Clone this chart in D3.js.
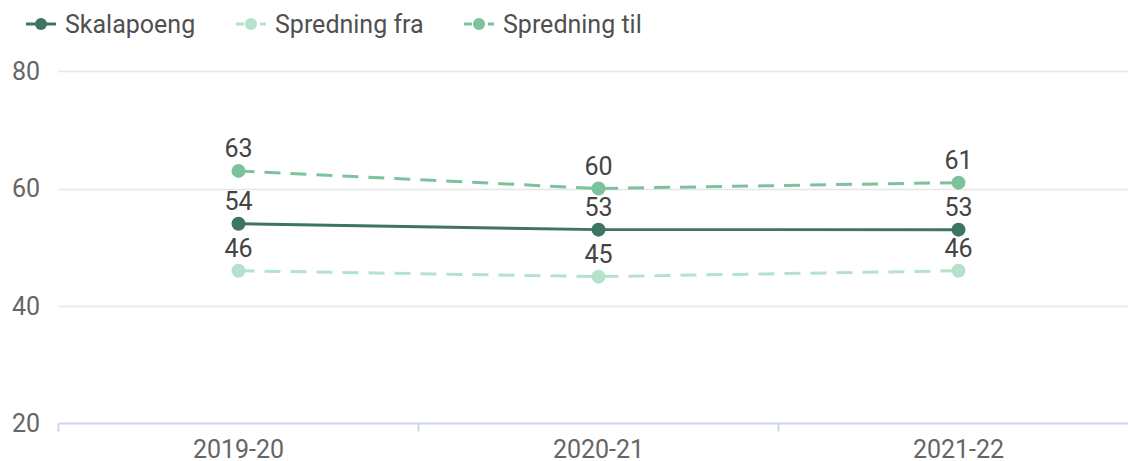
<!DOCTYPE html>
<html>
<head>
<meta charset="utf-8">
<script src="https://cdn.jsdelivr.net/npm/d3@7"></script>
<style>
  body { margin: 0; background: #fff; }
  svg { display: block; font-family: Roboto, "Noto Sans", sans-serif; }
</style>
</head>
<body>
<div id="chart"></div>
<script>
// Data
const years = ["2019-20", "2020-21", "2021-22"];
const skalapoeng = [54, 53, 53];
const spredningFra = [46, 45, 46];
const spredningTil = [63, 60, 61];
const yTicks = [20, 40, 60, 80];

const series = [
  {name: "Skalapoeng", values: skalapoeng, color: "#3d7463", dash: null, width: 3},
  {name: "Spredning fra", values: spredningFra, color: "#b5e2cb", dash: "16,10", width: 3},
  {name: "Spredning til", values: spredningTil, color: "#7cc39d", dash: "16,10", width: 3}
];

const width = 1128, height = 461;
const marginLeft = 58.5, marginTop = 71, marginBottom = 37.5;
const fontSize = 25;

const svg = d3.select("#chart").append("svg")
  .attr("width", width)
  .attr("height", height);

// Scales
const x = d3.scaleBand().domain(years).range([marginLeft, marginLeft + 360 * 3]);
const y = d3.scaleLinear().domain([20, 80]).range([height - marginBottom, marginTop]);

// Gridlines
svg.append("g")
  .selectAll("line")
  .data(yTicks.slice(1))
  .join("line")
  .attr("x1", marginLeft)
  .attr("x2", width)
  .attr("y1", d => Math.round(y(d)) + 0.5)
  .attr("y2", d => Math.round(y(d)) + 0.5)
  .attr("stroke", "#e6e6e6")
  .attr("stroke-width", 1.5);

// Y labels
svg.append("g")
  .selectAll("text")
  .data(yTicks)
  .join("text")
  .attr("x", 40)
  .attr("y", d => y(d))
  .attr("dy", "0.35em")
  .attr("text-anchor", "end")
  .attr("fill", "#666")
  .attr("font-size", fontSize)
  .text(d => d);

// X axis
const xAxis = svg.append("g");
xAxis.append("line")
  .attr("x1", marginLeft)
  .attr("x2", width)
  .attr("y1", y(20))
  .attr("y2", y(20))
  .attr("stroke", "#ccd6eb")
  .attr("stroke-width", 2);
xAxis.selectAll(".tick")
  .data(years)
  .join("line")
  .attr("x1", d => x(d))
  .attr("x2", d => x(d))
  .attr("y1", y(20))
  .attr("y2", y(20) + 8)
  .attr("stroke", "#ccd6eb")
  .attr("stroke-width", 2);
xAxis.selectAll("text")
  .data(years)
  .join("text")
  .attr("x", d => x(d) + x.bandwidth() / 2)
  .attr("y", 458)
  .attr("text-anchor", "middle")
  .attr("fill", "#666")
  .attr("font-size", fontSize)
  .text(d => d);

// Lines and markers
const line = d3.line()
  .x((d, i) => x(years[i]) + x.bandwidth() / 2)
  .y(d => y(d));

series.slice().reverse().forEach(s => {
  const g = svg.append("g");
  g.append("path")
    .datum(s.values)
    .attr("fill", "none")
    .attr("stroke", s.color)
    .attr("stroke-width", s.width)
    .attr("stroke-dasharray", s.dash)
    .attr("d", line);
  g.selectAll("circle")
    .data(s.values)
    .join("circle")
    .attr("cx", (d, i) => x(years[i]) + x.bandwidth() / 2)
    .attr("cy", d => y(d))
    .attr("r", 7)
    .attr("fill", s.color);
  g.selectAll("text")
    .data(s.values)
    .join("text")
    .attr("x", (d, i) => x(years[i]) + x.bandwidth() / 2)
    .attr("y", d => y(d) - 14)
    .attr("text-anchor", "middle")
    .attr("fill", "#444")
    .attr("font-size", fontSize)
    .text(d => d);
});

// Legend
const legendX = [26, 236, 464];
const legend = svg.append("g");
series.forEach((s, i) => {
  const item = legend.append("g").attr("transform", `translate(${legendX[i]}, 24)`);
  item.append("line")
    .attr("x1", 0).attr("x2", 30)
    .attr("stroke", s.color)
    .attr("stroke-width", 3)
    .attr("stroke-dasharray", s.dash ? "8,4" : null);
  item.append("circle")
    .attr("cx", 15)
    .attr("r", 6)
    .attr("fill", s.color);
  item.append("text")
    .attr("x", 39)
    .attr("dy", "0.35em")
    .attr("fill", "#505050")
    .attr("font-size", fontSize)
    .text(s.name);
});
</script>
</body>
</html>
